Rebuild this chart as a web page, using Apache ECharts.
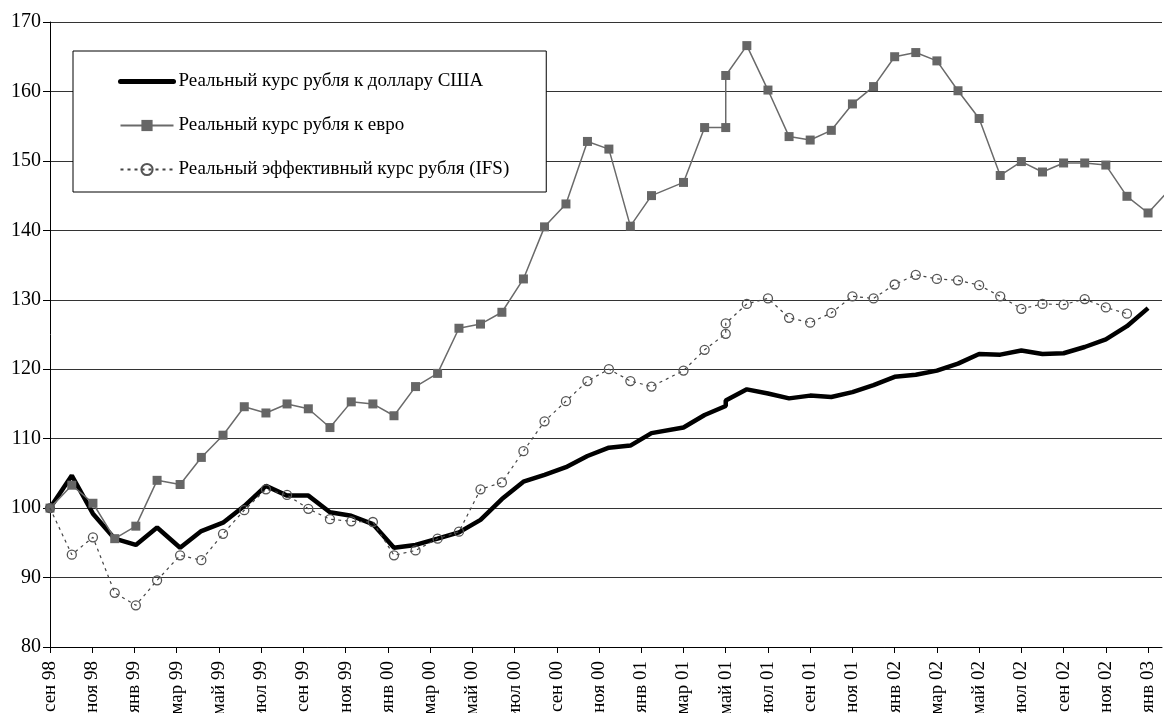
<!DOCTYPE html>
<html>
<head>
<meta charset="utf-8">
<script src="https://cdn.jsdelivr.net/npm/echarts@6/dist/echarts.min.js"></script>
<style>
html,body{margin:0;padding:0;background:#fff;}
#chart{width:1164px;height:713px;}
</style>
</head>
<body>
<div id="chart"></div>
<script>
// Observation dates (as they sit on the reference's date axis)
const dates = [
  '1998-09-01','1998-10-02','1998-11-02','1998-12-03','1999-01-03','1999-02-03','1999-03-06','1999-04-06',
  '1999-05-07','1999-06-07','1999-07-08','1999-08-08','1999-09-08','1999-10-09','1999-11-09','1999-12-10',
  '2000-01-10','2000-02-10','2000-03-12','2000-04-12','2000-05-13','2000-06-13','2000-07-14','2000-08-14',
  '2000-09-14','2000-10-15','2000-11-15','2000-12-16','2001-01-16',
  '2001-03-01','2001-04-01','2001-05-01','2001-05-01','2001-06-01','2001-07-01','2001-08-01','2001-09-01',
  '2001-10-01','2001-11-01','2001-12-01','2002-01-01','2002-02-01','2002-03-01','2002-04-01','2002-05-01',
  '2002-06-01','2002-07-01','2002-08-01','2002-09-01','2002-10-01','2002-11-01','2002-12-01','2003-01-01',
  '2003-02-01'
];
const usd = [
  100, 104.7, 99.2, 95.6, 94.7, 97.2, 94.3, 96.7, 97.9, 100.3, 103.2, 101.8, 101.8, 99.4, 98.9, 97.7,
  94.3, 94.7, 95.6, 96.5, 98.3, 101.3, 103.8, 104.8, 105.9, 107.5, 108.7, 109.0, 110.8,
  111.6, 113.4, 114.7, 115.5, 117.1, 116.5, 115.8, 116.2, 116.0, 116.7, 117.7, 118.9, 119.2, 119.8, 120.8,
  122.2, 122.1, 122.7, 122.2, 122.3, 123.2, 124.3, 126.2, 128.8, null
];
const eur = [
  100, 103.3, 100.7, 95.6, 97.4, 104.0, 103.4, 107.3, 110.5, 114.6, 113.7, 115.0, 114.3, 111.6, 115.3, 115.0,
  113.3, 117.5, 119.4, 125.9, 126.5, 128.2, 133.0, 140.5, 143.8, 152.8, 151.7, 140.6, 145.0,
  146.9, 154.8, 154.8, 162.3, 166.6, 160.2, 153.5, 153.0, 154.4, 158.2, 160.7, 165.0, 165.6, 164.4, 160.1,
  156.1, 147.9, 149.9, 148.4, 149.7, 149.7, 149.4, 144.9, 142.5, 145.8
];
const ifs = [
  100, 93.3, 95.8, 87.8, 86.0, 89.6, 93.2, 92.5, 96.3, 99.7, 102.7, 101.9, 99.9, 98.4, 98.1, 98.0,
  93.2, 93.9, 95.6, 96.6, 102.7, 103.7, 108.2, 112.5, 115.4, 118.3, 120.0, 118.3, 117.5,
  119.8, 122.8, 125.1, 126.6, 129.4, 130.2, 127.4, 126.7, 128.1, 130.5, 130.2, 132.2, 133.6, 133.0, 132.8,
  132.1, 130.5, 128.7, 129.4, 129.3, 130.1, 128.9, 128.0, null, null
];
const xTickLabels = [
  'сен 98','ноя 98','янв 99','мар 99','май 99','июл 99','сен 99','ноя 99','янв 00','мар 00','май 00',
  'июл 00','сен 00','ноя 00','янв 01','мар 01','май 01','июл 01','сен 01','ноя 01','янв 02','мар 02',
  'май 02','июл 02','сен 02','ноя 02','янв 03'
];
const seriesNames = [
  'Реальный курс рубля к доллару США',
  'Реальный курс рубля к евро',
  'Реальный эффективный курс рубля (IFS)'
];

// months elapsed since 1 Sep 1998
function monthIndex(s) {
  const p = s.split('-').map(Number);
  const dim = new Date(p[0], p[1], 0).getDate();
  return (p[0] - 1998) * 12 + (p[1] - 9) + (p[2] - 1) / dim;
}
const xs = dates.map(monthIndex);
const pairs = arr => arr.map((v, i) => [xs[i], v]);
const tickVals = xTickLabels.map((_, i) => i * 2);

const FONT = '"Liberation Serif", "DejaVu Serif", serif';
const chart = echarts.init(document.getElementById('chart'), null, {renderer: 'canvas'});
chart.setOption({
  animation: false,
  backgroundColor: '#fff',
  grid: {left: 50, right: 2, top: 22, bottom: 66, containLabel: false, outerBoundsMode: 'none'},
  legend: {
    orient: 'vertical',
    left: 73, top: 51,
    padding: [21, 37, 13, 45],
    itemGap: 25,
    itemWidth: 53, itemHeight: 14,
    backgroundColor: '#fff',
    borderColor: '#000', borderWidth: 1,
    textStyle: {fontFamily: FONT, fontSize: 19, color: '#000'},
    data: [
      {name: seriesNames[0], itemStyle: {opacity: 0}, lineStyle: {width: 5, cap: 'round'}},
      {name: seriesNames[1]},
      {name: seriesNames[2]}
    ]
  },
  xAxis: {
    type: 'value',
    min: 0, max: 52.66,
    interval: 2,
    axisLine: {show: true, onZero: false, lineStyle: {color: '#000', width: 1}},
    axisTick: {show: true, length: 6, lineStyle: {color: '#000'}, customValues: tickVals},
    axisLabel: {
      rotate: 90, fontFamily: FONT, fontSize: 19, color: '#000', margin: 14,
      customValues: tickVals,
      formatter: v => xTickLabels[Math.round(v / 2)] || ''
    },
    splitLine: {show: false}
  },
  yAxis: {
    type: 'value',
    min: 80, max: 170, interval: 10,
    axisLine: {show: true, lineStyle: {color: '#000', width: 1}},
    axisTick: {show: true, length: 7, lineStyle: {color: '#000'}},
    axisLabel: {fontFamily: FONT, fontSize: 20, color: '#000', margin: 9},
    splitLine: {show: true, lineStyle: {color: '#333', width: 1}}
  },
  series: [
    {
      name: seriesNames[0], type: 'line', data: pairs(usd),
      symbol: 'none', connectNulls: false,
      lineStyle: {color: '#000', width: 4.5},
      itemStyle: {color: '#000'},
      z: 2
    },
    {
      name: seriesNames[1], type: 'line', data: pairs(eur),
      symbol: 'rect', symbolSize: 9, showSymbol: true,
      lineStyle: {color: '#6a6a6a', width: 1.5},
      itemStyle: {color: '#666', borderWidth: 0},
      z: 3
    },
    {
      name: seriesNames[2], type: 'line', data: pairs(ifs),
      symbol: 'circle', symbolSize: 9, showSymbol: true,
      lineStyle: {color: '#444', width: 1.2, type: [3, 4]},
      itemStyle: {color: 'rgba(255,255,255,0)', borderColor: '#555', borderWidth: 1.3},
      z: 4
    }
  ]
});
</script>
</body>
</html>
